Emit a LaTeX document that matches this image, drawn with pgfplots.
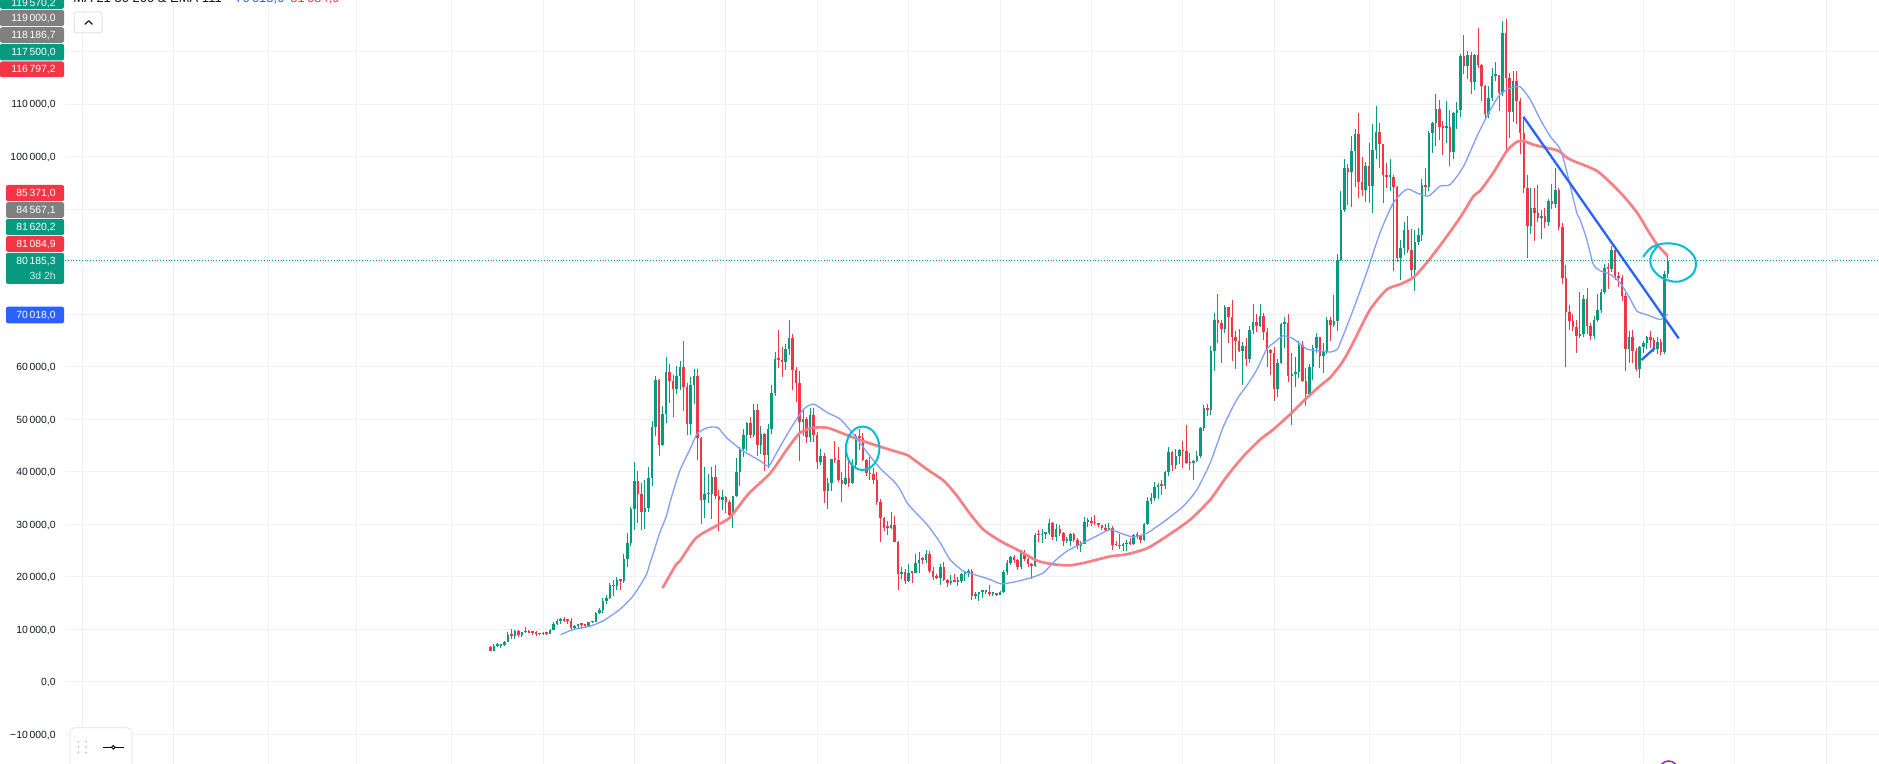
\documentclass[border=0pt]{standalone}
\usepackage{fontspec}
\setmainfont{Liberation Sans}
\usepackage{pgfplots}
\usepackage{pgfplotstable}
\pgfplotsset{compat=1.18}
\definecolor{tvgreen}{RGB}{8,153,129}
\definecolor{tvred}{RGB}{242,54,69}
\definecolor{tvgray}{RGB}{128,128,128}
\definecolor{tvblue}{RGB}{41,98,255}
\definecolor{tvgrid}{RGB}{240,242,246}
\definecolor{tvtext}{RGB}{19,23,34}
\definecolor{maA}{RGB}{128,158,250}
\definecolor{maB}{RGB}{246,128,134}
\definecolor{tvcyan}{RGB}{0,188,212}
\definecolor{tvpurple}{RGB}{156,39,176}
\definecolor{btnborder}{RGB}{224,227,235}
\definecolor{panelborder}{RGB}{232,234,240}
\definecolor{dotgray}{RGB}{190,193,200}
\newcommand{\labfont}{\fontsize{5.2}{6}\selectfont}

% weekly candles, values in thousands
\pgfplotstableread{
i O H L C
1 6.7 6.8 5.85 5.9
2 5.9 7.2 5.85 6.8
3 6.8 7.46 6.6 6.9
4 6.9 7.3 6.5 7.1
5 7.1 7.8 6.8 7.7
6 7.7 9.45 7.65 8.9
7 8.9 10.0 8.1 8.7
8 8.7 9.9 8.2 9.7
9 9.7 9.85 8.6 8.9
10 8.9 9.6 8.6 9.45
11 9.45 10.4 9.3 9.75
12 9.75 9.98 9.25 9.4
13 9.4 9.8 9.0 9.3
14 9.3 9.8 8.85 9.1
15 9.1 9.35 8.9 9.05
16 9.05 9.45 9.0 9.25
17 9.25 9.3 9.0 9.2
18 9.2 10.1 9.15 9.95
19 9.95 11.45 9.9 11.05
20 11.05 11.9 10.9 11.6
21 11.6 12.1 11.1 11.9
22 11.9 12.45 11.5 11.7
23 11.7 11.8 11.1 11.65
24 11.65 12.1 9.9 10.3
25 10.3 10.8 9.9 10.7
26 10.7 11.1 10.2 11.05
27 11.05 11.1 10.1 10.8
28 10.8 10.95 10.4 10.65
29 10.65 11.5 10.55 11.35
30 11.35 11.7 11.2 11.5
31 11.5 13.35 11.4 13.05
32 13.05 14.1 12.9 13.75
33 13.75 15.95 13.2 15.5
34 15.5 16.5 14.8 16.0
35 16.0 18.9 15.8 18.4
36 18.4 19.4 16.3 18.2
37 18.2 19.9 17.6 19.4
38 19.4 19.6 17.6 19.2
39 19.2 24.3 18.9 23.5
40 23.5 28.4 21.8 26.4
41 26.4 33.3 25.9 33.0
42 33.0 41.95 29.0 38.2
43 38.2 40.1 30.3 35.8
44 35.8 37.8 28.9 32.3
45 32.3 38.5 29.2 33.1
46 33.1 40.9 32.3 38.9
47 38.9 49.7 37.4 48.6
48 48.6 58.3 46.8 57.5
49 57.5 57.6 43.0 45.1
50 45.1 52.6 44.9 51.0
51 51.0 61.8 49.3 59.0
52 59.0 60.6 53.2 57.3
53 57.3 58.4 50.4 55.8
54 55.8 60.2 54.8 58.2
55 58.2 61.2 55.5 60.0
56 60.0 64.9 51.5 56.2
57 56.2 57.0 47.0 49.1
58 49.1 58.0 47.0 56.6
59 56.6 59.6 52.9 58.2
60 58.2 59.6 42.2 46.4
61 46.4 46.7 30.0 34.7
62 34.7 40.9 31.2 35.7
63 35.7 39.5 34.0 35.8
64 35.8 40.9 31.0 39.0
65 39.0 41.3 34.8 35.5
66 35.5 36.6 28.8 34.7
67 34.7 36.6 32.7 35.3
68 35.3 35.4 32.1 34.2
69 34.2 34.6 31.0 31.8
70 31.8 35.4 29.3 35.4
71 35.4 42.6 35.2 39.9
72 39.9 44.7 37.3 44.4
73 44.4 48.1 42.8 47.0
74 47.0 49.4 43.9 49.3
75 49.3 50.5 46.4 47.1
76 47.1 52.9 46.6 51.8
77 51.8 52.9 43.0 45.2
78 45.2 48.8 43.4 47.3
79 47.3 47.4 40.1 43.2
80 43.2 49.2 40.8 48.2
81 48.2 56.5 47.3 55.0
82 55.0 62.9 54.4 61.5
83 61.5 67.0 59.7 61.3
84 61.3 63.7 58.0 61.0
85 61.0 64.3 59.4 63.3
86 63.3 69.0 62.3 65.5
87 65.5 66.3 55.6 59.3
88 59.3 59.9 53.3 57.0
89 57.0 59.2 42.0 49.4
90 49.4 51.9 46.8 50.1
91 50.1 50.5 45.5 46.7
92 46.7 52.1 45.6 50.8
93 50.8 52.1 45.7 47.0
94 47.0 47.6 40.6 41.8
95 41.8 44.4 41.3 43.1
96 43.1 43.5 34.0 36.3
97 36.3 38.9 32.9 37.9
98 37.9 42.5 36.3 42.4
99 42.4 45.8 41.7 42.2
100 42.2 44.8 38.0 38.4
101 38.4 40.0 34.3 37.7
102 37.7 45.4 37.5 38.8
103 38.8 42.6 37.2 37.8
104 37.8 42.4 37.6 41.3
105 41.3 47.2 40.5 46.8
106 46.8 48.2 44.2 46.4
107 46.4 47.4 42.1 42.2
108 42.2 42.4 39.2 39.7
109 39.7 42.9 38.5 39.5
110 39.5 40.8 37.7 38.5
111 38.5 40.0 33.7 34.3
112 34.3 34.9 26.7 31.3
113 31.3 31.4 28.7 29.4
114 29.4 30.6 28.0 29.3
115 29.3 32.4 29.2 29.9
116 29.9 31.6 26.6 26.6
117 26.6 26.9 17.6 20.6
118 20.6 21.9 19.6 21.0
119 21.0 21.5 18.6 19.3
120 19.3 22.5 19.0 20.8
121 20.8 21.0 18.9 20.7
122 20.7 24.3 20.7 22.6
123 22.6 24.7 20.7 23.3
124 23.3 23.7 22.4 23.2
125 23.2 25.2 22.7 24.4
126 24.4 25.0 20.8 21.1
127 21.1 21.9 19.5 20.0
128 20.0 20.6 19.6 19.8
129 19.8 22.5 18.5 21.8
130 21.8 22.8 19.3 19.4
131 19.4 19.7 18.1 18.8
132 18.8 20.4 18.5 19.3
133 19.3 20.5 19.0 19.1
134 19.1 19.9 18.2 19.2
135 19.2 20.8 18.9 20.6
136 20.6 21.1 19.2 20.8
137 20.8 21.5 20.0 21.2
138 21.2 21.5 15.6 16.3
139 16.3 17.2 15.8 16.7
140 16.7 17.2 15.5 17.1
141 17.1 17.4 16.0 17.1
142 17.1 17.4 16.7 17.2
143 17.2 18.4 16.3 16.8
144 16.8 17.1 16.3 16.8
145 16.8 16.9 16.3 16.6
146 16.6 17.4 16.5 17.1
147 17.1 21.4 17.0 20.9
148 20.9 23.3 20.4 22.7
149 22.7 23.9 22.3 23.7
150 23.7 24.2 22.6 23.3
151 23.3 23.4 21.4 21.8
152 21.8 25.2 21.5 24.6
153 24.6 25.1 23.1 23.5
154 23.5 23.9 21.9 22.4
155 22.4 22.6 19.6 22.1
156 22.1 28.4 21.9 28.0
157 28.0 28.9 26.6 27.9
158 27.9 29.2 26.5 28.2
159 28.2 28.6 27.2 28.3
160 28.3 31.0 28.0 30.3
161 30.3 30.5 27.1 27.6
162 27.6 30.0 26.9 29.2
163 29.2 29.8 27.7 28.4
164 28.4 28.6 25.8 26.8
165 26.8 27.6 26.4 26.9
166 26.9 28.4 25.9 28.1
167 28.1 28.4 26.6 27.1
168 27.1 27.4 25.4 25.9
169 25.9 26.8 24.8 26.3
170 26.3 31.4 26.3 30.5
171 30.5 31.3 29.6 30.6
172 30.6 31.5 29.7 30.3
173 30.3 31.8 29.9 30.2
174 30.2 30.3 29.5 29.9
175 29.9 29.9 28.9 29.3
176 29.3 30.0 28.6 29.0
177 29.0 30.2 28.7 29.4
178 29.4 29.7 25.2 26.1
179 26.1 26.8 25.8 26.0
180 26.0 28.1 25.4 25.8
181 25.8 26.4 24.9 26.2
182 26.2 27.0 24.9 26.5
183 26.5 27.4 26.1 26.3
184 26.3 28.1 26.0 27.9
185 27.9 28.6 27.2 27.8
186 27.8 28.0 26.5 27.1
187 27.1 30.3 26.9 30.0
188 30.0 35.2 29.9 34.5
189 34.5 35.9 33.9 35.0
190 35.0 38.0 34.5 37.1
191 37.1 37.9 34.8 37.4
192 37.4 38.4 35.6 37.3
193 37.3 40.2 36.8 39.9
194 39.9 44.7 39.2 43.8
195 43.8 44.0 40.2 41.4
196 41.4 44.4 40.5 43.0
197 43.0 44.3 41.5 44.2
198 44.2 45.9 40.8 43.9
199 43.9 48.9 41.5 41.7
200 41.7 43.6 40.3 41.6
201 41.6 42.2 38.5 42.0
202 42.0 43.9 41.9 43.0
203 43.0 48.6 42.6 48.3
204 48.3 52.8 47.7 52.1
205 52.1 52.9 50.6 51.7
206 51.7 64.0 50.9 63.1
207 63.1 70.2 59.2 68.9
208 68.9 73.8 64.5 68.4
209 68.4 68.9 60.8 67.2
210 67.2 71.8 66.4 71.3
211 71.3 71.3 64.5 69.4
212 69.4 72.8 61.2 65.7
213 65.7 66.9 59.6 64.9
214 64.9 67.2 62.8 63.1
215 63.1 64.7 56.5 63.9
216 63.9 65.5 60.2 61.5
217 61.5 67.7 60.8 67.0
218 67.0 71.9 66.3 68.5
219 68.5 70.0 66.6 67.8
220 67.8 71.9 67.6 69.6
221 69.6 70.2 65.1 66.6
222 66.6 67.3 60.0 63.2
223 63.2 63.4 58.4 62.7
224 62.7 63.8 53.5 55.8
225 55.8 61.4 54.3 60.8
226 60.8 68.4 60.6 68.2
227 68.2 69.4 63.5 68.3
228 68.3 70.1 57.2 58.2
229 58.2 62.7 49.0 58.7
230 58.7 61.8 56.1 59.0
231 59.0 65.0 57.8 64.2
232 64.2 64.9 57.1 57.3
233 57.3 59.8 52.6 54.8
234 54.8 60.6 54.5 60.0
235 60.0 64.1 57.5 63.6
236 63.6 66.5 62.7 65.6
237 65.6 65.6 59.8 62.1
238 62.1 64.5 58.9 62.9
239 62.9 69.4 62.4 69.0
240 69.0 69.5 65.0 68.0
241 68.0 73.6 67.5 68.7
242 68.7 81.5 66.8 80.4
243 80.4 93.5 80.2 89.9
244 89.9 99.6 89.4 97.9
245 97.9 98.7 90.8 97.1
246 97.1 104.0 90.5 101.1
247 101.1 105.3 94.2 104.4
248 104.4 108.4 92.1 95.2
249 95.2 99.9 92.5 93.7
250 93.7 98.9 91.3 98.3
251 98.3 102.7 91.2 94.5
252 94.5 106.3 89.3 101.3
253 101.3 109.6 99.6 104.7
254 104.7 106.5 97.8 102.4
255 102.4 102.5 91.2 96.5
256 96.5 98.8 94.1 96.1
257 96.1 99.5 93.4 96.2
258 96.2 96.5 78.2 94.3
259 94.3 94.4 80.0 80.7
260 80.7 84.2 76.6 82.6
261 82.6 87.5 81.2 86.1
262 86.1 88.8 81.6 82.3
263 82.3 86.2 76.6 78.4
264 78.4 86.1 74.5 83.8
265 83.8 86.4 83.1 85.1
266 85.1 95.8 83.9 94.6
267 94.6 97.9 92.8 94.3
268 94.3 104.9 93.4 104.6
269 104.6 106.6 100.7 106.4
270 106.4 111.9 102.1 109.0
271 109.0 110.7 103.1 105.7
272 105.7 106.8 100.4 105.5
273 105.5 110.6 102.7 105.6
274 105.6 108.9 98.2 100.9
275 100.9 108.6 99.6 108.3
276 108.3 110.5 105.2 108.9
277 108.9 119.5 107.5 119.1
278 119.1 123.2 115.8 117.3
279 117.3 120.2 114.7 119.4
280 119.4 120.0 112.0 114.2
281 114.2 119.5 112.6 119.3
282 119.3 124.5 116.8 117.4
283 117.4 117.6 110.6 113.5
284 113.5 113.6 107.3 108.2
285 108.2 113.4 107.3 111.1
286 111.1 116.8 110.6 115.3
287 115.3 118.0 114.4 115.5
288 115.5 115.6 108.7 112.2
289 112.2 125.8 111.6 123.5
290 123.5 126.2 101.0 114.9
291 114.9 115.9 103.6 108.6
292 108.6 116.4 106.6 114.5
293 114.5 116.4 106.3 110.6
294 110.6 111.2 100.6 104.6
295 104.6 107.5 93.1 94.1
296 94.1 96.6 80.8 86.8
297 86.8 94.1 85.3 90.3
298 90.3 94.0 84.0 89.3
299 89.3 94.6 87.6 88.4
300 88.4 89.9 84.4 88.7
301 88.7 90.3 86.5 87.6
302 87.6 92.0 86.8 91.6
303 91.6 94.8 90.0 90.9
304 90.9 97.9 90.2 93.7
305 93.7 94.0 86.0 86.6
306 86.6 87.4 75.8 77.0
307 77.0 79.4 59.9 70.4
308 70.4 71.7 67.0 68.8
309 68.8 70.1 66.9 67.6
310 67.6 68.9 62.7 65.8
311 65.8 74.2 65.4 66.2
312 66.2 73.6 65.7 72.9
313 72.9 75.0 66.2 67.8
314 67.8 68.4 65.1 65.9
315 65.9 69.6 65.2 69.0
316 69.0 73.9 68.6 70.8
317 70.8 74.8 70.2 74.2
318 74.2 79.6 73.8 78.9
319 78.9 79.8 74.8 78.6
320 78.6 83.0 78.0 82.3
321 82.3 83.0 76.5 77.3
322 77.3 78.1 75.1 76.9
323 76.9 77.5 72.5 73.5
324 73.5 74.0 59.2 63.3
325 63.3 66.8 60.8 65.7
326 65.7 67.1 60.8 63.0
327 63.0 63.5 59.2 59.5
328 59.5 64.0 57.9 63.7
329 63.7 64.9 62.7 64.6
330 64.6 65.9 63.3 65.6
331 65.6 66.8 63.5 65.1
332 65.1 65.5 62.9 63.3
333 63.3 65.6 62.5 64.7
334 64.7 65.2 62.3 62.8
335 62.8 78.2 62.4 77.6
336 77.6 81.1 76.9 80.185
}\candles

% MA 21 (blue)
\pgfplotstableread{
i v
21 9.0
24.6 10.0
29.2 10.6
33 11.6
37.8 13.8
41.4 16.2
44 18.8
45.5 20.6
46.4 22.6
47.4 24.6
49.2 28.4
51.1 31.6
52.1 34.2
54.9 40.2
57.8 44.3
59.7 47.1
61.6 48.1
63.5 48.5
65.8 48.4
68.2 46.5
71.1 44.9
72.1 44.3
74.9 43.2
78 42.0
80.2 41.1
82.5 43.7
86.3 48.1
90.1 51.9
93 52.9
96.8 51.3
100.6 50.0
104.4 47.1
108.2 43.7
112 40.6
115.7 38.3
117.7 36.5
119.9 33.8
125.2 30.0
129 26.5
131.8 23.3
135.6 21.1
139.4 20.3
143.2 19.5
146.2 18.7
149.8 19.0
154.6 19.8
158.4 20.8
161.2 22.8
165 24.9
169.7 26.5
173.5 27.8
177.3 29.0
180 28.4
184 27.6
188 28.4
190 29.3
193.4 30.9
198.2 33.5
202 36.6
205.8 41.7
209.6 48.7
213.4 53.8
216.2 56.4
219.1 59.5
221.9 63.4
223.8 64.5
226.6 65.9
229.5 65.3
233.3 63.4
237.1 63.0
240 62.8
242 63.4
243.2 65.2
246.5 70.9
250.3 77.9
254.1 85.5
257.9 91.2
261.7 93.8
264.6 93.1
267.9 92.5
271.2 94.4
274.1 94.7
277.9 98.2
281.7 103.9
285.4 108.8
288.3 111.9
291.1 113.0
294 113.3
296.8 110.9
299.7 107.1
302.5 103.9
305.4 101.4
307.3 97.0
310.1 89.3
311 88.1
312.9 84.3
314.8 79.5
316.7 78.3
319.6 77.6
322.4 76.0
325.3 72.9
327.2 70.6
330.1 69.9
333.9 69.0
336 70.018
}\maone

% MA 50 (red)
\pgfplotstableread{
i v
50 17.9
53.8 22.3
54.9 23.0
59.5 27.4
65.2 29.7
69 31.2
72.1 33.8
74.7 36.0
80.7 39.8
85.4 44.3
89.2 47.5
93 48.4
96.8 48.4
100.6 47.5
104.4 46.5
108.2 45.6
111.9 44.8
117.7 43.6
119.9 43.1
125.2 40.5
130 38.3
133.8 35.4
137.6 31.9
141.3 29.0
146.2 26.8
151.7 24.9
156.5 23.1
161.2 22.4
165.9 22.2
170.7 22.8
177.3 23.9
182 24.3
188 25.5
194 28.0
200.1 30.9
205.8 34.7
210.6 39.2
215.3 43.0
220.1 46.2
223.8 48.1
228.6 51.0
233.3 54.1
237.1 56.4
240 58.0
243 60.5
245 62.7
247 65.3
251.3 70.9
256 74.7
259.8 75.7
263.6 77.0
267.4 79.8
272.1 83.9
276.9 88.4
280.7 92.5
282.6 93.5
286.4 97.0
290.2 101.1
293 102.8
294.9 103.0
297.7 102.3
301.5 101.7
304.9 101.1
307.3 99.8
310.1 98.9
311 98.7
315.8 97.3
319.6 95.1
323.4 92.5
327.2 89.4
330.1 86.2
332.9 83.3
336 81.085
}\matwo

\begin{document}
\begin{tikzpicture}[x=1pt,y=1pt]
\path[use as bounding box] (0,0) rectangle (939.5,382);
\begin{axis}[
  at={(32.5pt,0pt)}, anchor=south west,
  scale only axis, width=907pt, height=382pt,
  xmin=-120.0, xmax=396.07, ymin=-15.61, ymax=129.83,
  axis line style={draw=none},
  tick style={draw=none},
  xtick=\empty,
  ytick={-10,0,...,120},
  yticklabels={{−10\,000,0},{0,0},{10\,000,0},{20\,000,0},{30\,000,0},{40\,000,0},{50\,000,0},{60\,000,0},{},{},{},{100\,000,0},{110\,000,0},{}},
  ymajorgrids=true,
  major grid style={draw=tvgrid, line width=0.5pt},
  yticklabel style={font=\labfont, text=tvtext, inner sep=0pt, anchor=base east, xshift=-4.5pt, yshift=-1.85pt},
  clip=true,
]
% vertical time grid (first week of January and July)
\pgfplotsinvokeforeach{-115,-89,-62,-37,-10,16,42,68,94,120,146,172,198,224,251,277,303,329,355,381}{
  \draw[tvgrid, line width=0.5pt] (axis cs:#1,-15.61) -- (axis cs:#1,129.83);
}
% wicks
\addplot[tvgreen, line width=0.5pt, quiver={u=0, v={\thisrow{H}-\thisrow{L}}}]
  table[x expr={\thisrow{C}<\thisrow{O} ? nan : \thisrow{i}}, y=L] {\candles};
\addplot[tvred, line width=0.5pt, quiver={u=0, v={\thisrow{H}-\thisrow{L}}}]
  table[x expr={\thisrow{C}<\thisrow{O} ? \thisrow{i} : nan}, y=L] {\candles};
% bodies
\addplot[tvgreen, line width=1.25pt, line cap=butt, quiver={u=0, v={max(\thisrow{C}-\thisrow{O},0.35)}}]
  table[x expr={\thisrow{C}<\thisrow{O} ? nan : \thisrow{i}}, y=O] {\candles};
\addplot[tvred, line width=1.25pt, line cap=butt, quiver={u=0, v={max(\thisrow{O}-\thisrow{C},0.35)}}]
  table[x expr={\thisrow{C}<\thisrow{O} ? \thisrow{i} : nan}, y=C] {\candles};
% moving averages
\addplot[maB, line width=1.35pt, line join=round, smooth, tension=0.4] table[x=i, y=v] {\matwo};
\addplot[maA, line width=0.65pt, line join=round, smooth, tension=0.4] table[x=i, y=v] {\maone};
% last price line
\addplot[tvgreen, line width=0.5pt, dash pattern=on 0.5pt off 0.9pt] coordinates {(-120,80.185) (396.07,80.185)};
% drawings
\draw[tvblue, line width=1.15pt] (axis cs:294.9,107.6) -- (axis cs:339.1,65.4);
\draw[tvblue, line width=1.15pt] (axis cs:328.5,61.3) -- (axis cs:332.3,63.6);
\draw[tvcyan, line width=1pt] (axis cs:106.94,44.49) ellipse [x radius=8.35pt, y radius=10.85pt];
\draw[tvcyan, line width=1pt, line cap=round] plot[smooth, tension=0.6] coordinates {
  (axis cs:329.02,80.96) (axis cs:331.41,82.75) (axis cs:335.68,83.51) (axis cs:340.40,82.87)
  (axis cs:343.73,80.66) (axis cs:343.24,77.80) (axis cs:338.98,76.20) (axis cs:334.25,76.97)
  (axis cs:331.41,78.94) (axis cs:331.21,81.10) (axis cs:333.00,82.87)};
\draw[tvpurple, line width=0.75pt] (axis cs:336.2,-16.75) circle [radius=4.5pt];
\end{axis}

% price labels on the scale
\newcommand{\pbox}[6]{%
  \fill[#5, rounded corners=1pt] (#1,#2) rectangle (32,#3);
  \node[anchor=base east, inner sep=0pt, text=white, font=\labfont] at (28,#4) {#6};}
\pbox{0}{386}{377.6}{378.9}{tvgreen}{119\,570,2}
\pbox{0}{377.1}{368.9}{371.15}{tvgray}{119\,000,0}
\pbox{0}{368.4}{360.6}{362.65}{tvgray}{118\,186,7}
\pbox{0}{360.1}{351.75}{354.05}{tvgreen}{117\,500,0}
\pbox{0}{351.25}{343.4}{345.5}{tvred}{116\,797,2}
\pbox{3}{289.5}{281.4}{283.5}{tvred}{85\,371,0}
\pbox{3}{280.9}{273.1}{275.15}{tvgray}{84\,567,1}
\pbox{3}{272.6}{264.4}{266.65}{tvgreen}{81\,620,2}
\pbox{3}{263.9}{256.1}{258.15}{tvred}{81\,084,9}
\pbox{3}{255.6}{240}{249.65}{tvgreen}{80\,185,3}
\node[anchor=base east, inner sep=0pt, text=white!80!tvgreen, font=\labfont] at (28,242.4) {3d 2h};
\pbox{3}{228.65}{220.35}{222.65}{tvblue}{70\,018,0}

% legend line (cut at the top)
\node[anchor=base west, inner sep=0pt, text=tvtext, font=\fontsize{6.5}{7}\selectfont] at (36.5,380.65) {MA 21 50 200 \& EMA 111};
\node[anchor=base west, inner sep=0pt, text=tvblue, font=\fontsize{6.5}{7}\selectfont] at (117.5,380.65) {70\,018,0};
\node[anchor=base west, inner sep=0pt, text=tvred, font=\fontsize{6.5}{7}\selectfont] at (145,380.65) {81\,084,9};
% collapse button
\draw[draw=btnborder, fill=white, line width=0.5pt, rounded corners=1.5pt] (37,376) rectangle (51,365.5);
\draw[tvtext, line width=0.6pt, line cap=round, line join=round] (42.5,369.85) -- (44.35,371.65) -- (46.15,369.85);
% bottom-left panel
\draw[draw=panelborder, fill=white, line width=0.5pt, rounded corners=2.5pt] (35,18.15) rectangle (66,-5);
\foreach \xx in {39.15,43} {\foreach \yy in {11.15,8.5,5.85} {\fill[dotgray] (\xx,\yy) circle (0.5);}}
\draw[black, line width=0.5pt] (51.35,8.35) -- (62,8.35);
\draw[black, fill=white, line width=0.45pt] (56.65,8.35) circle (0.9);
\end{tikzpicture}
\end{document}
